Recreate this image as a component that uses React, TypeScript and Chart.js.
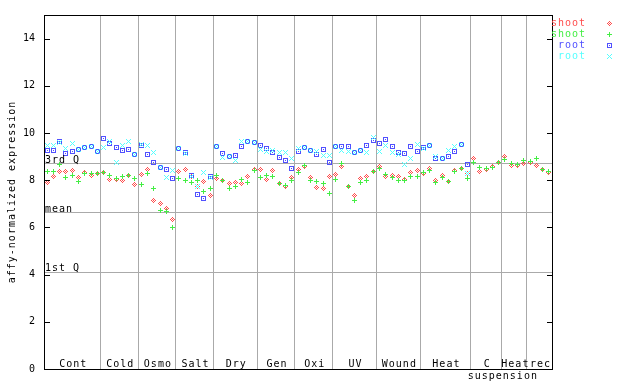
import { useEffect, useRef } from 'react';
import { Chart, registerables } from 'chart.js';

Chart.register(...registerables);

// ---------- data ----------
const categories = ['Cont', 'Cold', 'Osmo', 'Salt', 'Dry', 'Gen', 'Oxi', 'UV', 'Wound', 'Heat', 'C', 'Heat', 'rec'];
const categorySizes = [9, 6, 6, 6, 7, 6, 6, 7, 7, 8, 5, 4, 4];
const groupLabel = 'suspension';
const groupCenterBoundary = 10; // label centred on the boundary between "C" and "Heat"

const yTickValues = [0, 2, 4, 6, 8, 10, 12, 14];
const yMin = 0;
const yMax = 15;
const yTitle = 'affy-normalized expression';

const refNames = ['3rd Q', 'mean', '1st Q'];
const refValues = [8.69, 6.62, 4.09];

const seriesNames = ['shoot', 'shoot', 'root', 'root'];

const shootRed = [
  7.9, 8.17, 8.38, 8.35, 8.42, 8.11, 8.31, 8.21, 8.28,
  8.31, 8.03, 8.03, 7.97, 8.2, 7.83,
  8.25, 8.45, 7.13, 7.02, 6.8, 6.34,
  8.35, 8.45, 8.15, 7.72, 7.93, 7.37,
  8.07, 8.0, 7.86, 7.9, 7.86, 8.14, 8.45,
  8.45, 8.05, 8.4, 7.87, 7.75, 8.13,
  8.45, 8.59, 8.12, 7.69, 7.65, 8.14,
  8.25, 8.6, 7.75, 7.37, 8.07, 8.14, 8.35,
  8.56, 8.15, 8.2, 8.14, 8.03, 8.31, 8.39,
  8.3, 8.5, 8.0, 8.22, 7.95, 8.4, 8.5, 8.3,
  8.92, 8.35, 8.45, 8.56, 8.73,
  9.0, 8.64, 8.64, 8.71,
  8.73, 8.62, 8.45, 8.32,
];
const shootGreen = [
  8.38, 8.38, 8.68, 8.11, 8.21, 7.96, 8.28, 8.28, 8.28,
  8.33, 8.21, 8.07, 8.17, 8.21, 8.07,
  7.83, 8.28, 7.65, 6.7, 6.66, 6.0,
  8.07, 7.99, 7.9, 8.0, 7.51, 7.65,
  8.21, 8.0, 7.65, 7.72, 8.03, 7.89, 8.4,
  8.11, 8.21, 8.16, 7.86, 7.77, 7.97,
  8.32, 8.64, 7.97, 7.93, 7.86, 7.45,
  8.03, 8.7, 7.72, 7.16, 7.89, 7.99, 8.35,
  8.49, 8.25, 8.1, 7.97, 7.97, 8.14, 8.16,
  8.31, 8.41, 7.92, 8.12, 7.95, 8.38, 8.5, 8.07,
  8.73, 8.52, 8.5, 8.54, 8.75,
  8.88, 8.69, 8.66, 8.85,
  8.78, 8.92, 8.45, 8.35,
];
const rootBlue = [
  9.27, 9.27, 9.65, 9.13, 9.2, 9.3, 9.37, 9.44, 9.2,
  9.78, 9.55, 9.38, 9.27, 9.3, 9.11,
  9.47, 9.1, 8.75, 8.54, 8.45, 8.07,
  9.34, 9.17, 8.21, 7.41, 7.23, 8.17,
  9.44, 9.15, 9.02, 9.06, 9.44, 9.62, 9.58,
  9.48, 9.34, 9.18, 8.96, 8.83, 8.5,
  9.23, 9.4, 9.27, 9.1, 9.3, 8.75,
  9.44, 9.44, 9.44, 9.17, 9.27, 9.48, 9.67,
  9.55, 9.72, 9.44, 9.16, 9.13, 9.44, 9.23,
  9.4, 9.48, 8.9, 8.9, 9.02, 9.23, 9.52, 8.67,
];
const rootCyan = [
  9.47, 9.47, 9.6, 9.33, 9.54, 9.3, 9.37, 9.44, 9.2,
  9.4, 9.62, 8.77, 9.47, 9.62, 9.11,
  9.5, 9.47, 9.17, 8.54, 8.11, 8.42,
  9.34, 9.12, 8.15, 7.75, 8.31, 8.1,
  9.44, 8.96, 9.02, 8.82, 9.62, 9.62, 9.58,
  9.32, 9.2, 9.24, 9.17, 9.17, 8.92,
  9.36, 9.4, 9.27, 9.2, 9.06, 9.06,
  9.44, 9.27, 9.22, 9.17, 9.27, 9.17, 9.8,
  9.2, 9.49, 9.16, 9.1, 8.68, 8.92, 9.52,
  9.33, 9.48, 9.0, 8.9, 9.25, 9.41, 9.52, 8.3,
];

// ---------- styles ----------
const FONT = '"DejaVu Sans Mono", monospace';
const COLORS = ['#ff4d4d', '#44ee44', '#5050ff', '#55ffff'];
const GRID = '#aaaaaa';

const PATTERNS = [
  ['..X..', '.X.X.', 'X.X.X', '.X.X.', '..X..'],
  ['..X..', '..X..', 'XXXXX', '..X..', '..X..'],
  ['XXXXX', 'X...X', 'X.X.X', 'X...X', 'XXXXX'],
  ['X...X', '.X.X.', '..X..', '.X.X.', 'X...X'],
];

function makeMarker(pattern: string[], color: string) {
  const c = document.createElement('canvas');
  c.width = pattern[0].length;
  c.height = pattern.length;
  const g = c.getContext('2d')!;
  g.fillStyle = color;
  pattern.forEach((row, j) => {
    for (let i = 0; i < row.length; i++) if (row[i] === 'X') g.fillRect(i, j, 1, 1);
  });
  return c;
}

const boundaries: number[] = [];
{
  let acc = 0;
  categorySizes.forEach((n, i) => {
    acc += n;
    if (i < categorySizes.length - 1) boundaries.push(acc);
  });
}
const totalSamples = categorySizes.reduce((a, b) => a + b, 0);

export default function App() {
  const ref = useRef<HTMLCanvasElement | null>(null);

  useEffect(() => {
    const canvas = ref.current;
    if (!canvas) return;
    const markers = PATTERNS.map((p, i) => makeMarker(p, COLORS[i]));
    const series = [shootRed, shootGreen, rootBlue, rootCyan];

    const datasets = series.map((vals, si) => ({
      label: seriesNames[si],
      data: vals.map((v, i) => ({ x: i + 0.5, y: v })),
      pointStyle: markers[si] as any,
      pointRadius: 3,
      order: 4 - si,
      yAxisID: 'y',
    }));

    const overlay = {
      id: 'overlay',
      beforeDatasetsDraw(chart: any) {
        chart.ctx.imageSmoothingEnabled = false;
      },
      afterDraw(chart: any) {
        const { ctx, chartArea: a } = chart;
        const xs = chart.scales.x;
        const ys = chart.scales.y;
        ctx.save();
        ctx.imageSmoothingEnabled = false;
        ctx.strokeStyle = '#000';
        ctx.lineWidth = 1;
        ctx.strokeRect(a.left + 0.5, a.top + 0.5, a.right - a.left, a.bottom - a.top);
        ctx.beginPath();
        for (const v of yTickValues) {
          const py = Math.round(ys.getPixelForValue(v)) + 0.5;
          ctx.moveTo(a.left, py);
          ctx.lineTo(a.left + 6, py);
          ctx.moveTo(a.right - 5, py);
          ctx.lineTo(a.right + 1, py);
        }
        ctx.stroke();

        ctx.font = `10px ${FONT}`;
        (ctx as any).letterSpacing = '1px';
        ctx.fillStyle = '#000';
        ctx.textBaseline = 'alphabetic';
        ctx.textAlign = 'left';
        refNames.forEach((n, i) => {
          const py = Math.round(ys.getPixelForValue(refValues[i]));
          ctx.fillText(n, a.left + 1, py - 1);
        });

        ctx.textAlign = 'center';
        let start = 0;
        categories.forEach((c, i) => {
          const end = start + categorySizes[i];
          const cx = xs.getPixelForValue((start + end) / 2);
          ctx.fillText(c, cx + 1, a.bottom - 2);
          start = end;
        });
        const gx = xs.getPixelForValue(boundaries[groupCenterBoundary]);
        ctx.fillText(groupLabel, gx + 1, a.bottom + 10);

        // y title
        ctx.save();
        ctx.translate(12, (a.top + a.bottom) / 2);
        ctx.rotate(-Math.PI / 2);
        ctx.textBaseline = 'middle';
        ctx.fillText(yTitle, 0, 0);
        ctx.restore();

        // legend
        ctx.textAlign = 'right';
        ctx.textBaseline = 'middle';
        seriesNames.forEach((n, i) => {
          const ry = 23 + i * 11;
          ctx.fillStyle = COLORS[i];
          ctx.fillText(n, 586, ry + 0.5);
          ctx.drawImage(markers[i], 607, ry - 2);
        });
        ctx.restore();
      },
    };

    const chart = new Chart(canvas, {
      type: 'scatter',
      data: { datasets: datasets as any },
      options: {
        animation: false,
        responsive: false,
        events: [],
        layout: { padding: { top: 13, right: 88, left: 0, bottom: 0 } },
        plugins: { legend: { display: false }, tooltip: { enabled: false } },
        scales: {
          x: {
            type: 'linear',
            min: 0,
            max: totalSamples,
            position: 'bottom',
            grid: { color: GRID, drawTicks: false, lineWidth: 1 },
            border: { display: false },
            ticks: { display: false },
            afterBuildTicks: (s: any) => {
              s.ticks = boundaries.map((v) => ({ value: v }));
            },
            afterFit: (s: any) => {
              s.height = 15;
            },
          },
          y: {
            type: 'linear',
            min: yMin,
            max: yMax,
            position: 'left',
            grid: { display: false, drawTicks: false },
            border: { display: false },
            ticks: { color: '#000', font: { size: 10, family: FONT }, padding: 9 },
            afterBuildTicks: (s: any) => {
              s.ticks = yTickValues.map((v) => ({ value: v }));
            },
            afterFit: (s: any) => {
              s.width = 44;
            },
          },
          q: {
            type: 'linear',
            min: yMin,
            max: yMax,
            position: 'right',
            grid: { color: GRID, drawTicks: false, lineWidth: 1 },
            border: { display: false },
            ticks: { display: false },
            afterBuildTicks: (s: any) => {
              s.ticks = refValues.map((v) => ({ value: v }));
            },
            afterFit: (s: any) => {
              s.width = 0;
            },
          },
        },
      } as any,
      plugins: [overlay],
    });
    return () => chart.destroy();
  }, []);

  return (
    <div style={{ position: 'absolute', left: 0, top: 0, width: 640, height: 384, background: '#fff' }}>
      <canvas ref={ref} width={640} height={384} style={{ display: 'block', width: 640, height: 384 }} />
    </div>
  );
}
